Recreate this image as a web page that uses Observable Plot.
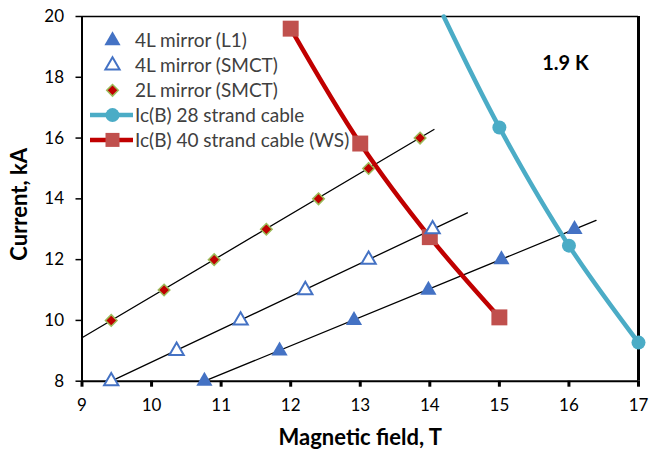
<!DOCTYPE html>
<html><head><meta charset="utf-8">
<script src="https://cdn.jsdelivr.net/npm/d3@7"></script>
<script src="https://cdn.jsdelivr.net/npm/@observablehq/plot@0.6"></script>
<style>body{margin:0;background:#fff} #wrap{width:649px;height:451px}</style>
</head><body><div id="wrap"></div>
<script>
// ---- data ----
const xTicks = [9, 10, 11, 12, 13, 14, 15, 16, 17];
const yTicks = [8, 10, 12, 14, 16, 18, 20];

const l1Field = [10.76, 11.84, 12.91, 13.98, 15.03, 16.08];
const l1Current = [8, 9, 10, 11, 12, 13];

const smct4Field = [9.42, 10.36, 11.28, 12.21, 13.12, 14.04];
const smct4Current = [8, 9, 10, 11, 12, 13];

const smct2Field = [9.42, 10.18, 10.9, 11.65, 12.4, 13.12, 13.86];
const smct2Current = [10, 11, 12, 13, 14, 15, 16];

// linear trend lines (end points)
const fitL1Field = [10.76, 16.39];
const fitL1Current = [8, 13.29];
const fitSmct4Field = [9.42, 14.54];
const fitSmct4Current = [8, 13.54];
const fitSmct2Field = [9.0, 14.06];
const fitSmct2Current = [9.43, 16.28];

// Ic(B) 28 strand cable: measured points, plus where the curve leaves the top of the chart
const ic28Field = [15, 16, 17];
const ic28Current = [16.35, 12.46, 9.27];
const ic28EdgeField = [14.2];
const ic28EdgeCurrent = [20];

const ic40Field = [12, 13, 14, 15];
const ic40Current = [19.6, 15.82, 12.74, 10.1];

const legendLabels = ["4L mirror (L1)", "4L mirror (SMCT)", "2L mirror (SMCT)", "Ic(B) 28 strand cable", "Ic(B) 40 strand cable (WS)"];
const tempLabel = "1.9 K";
const xLabel = "Magnetic field, T";
const yLabel = "Current, kA";

// ---- styling ----
const FONT = "Lato, 'Open Sans', sans-serif";
const BLUE = "#4472C4", CYAN = "#4BACC6", RED = "#C00000", SQ = "#C0504D", GREEN = "#9BBB59";
const rows = (xs, ys) => xs.map((x, i) => ({x, y: ys[i]}));
const [xMin, xMax] = [xTicks[0], xTicks[xTicks.length - 1]];
const [yMin, yMax] = [yTicks[0], yTicks[yTicks.length - 1]];

const plot = Plot.plot({
  width: 649, height: 451,
  marginLeft: 81.5, marginRight: 11, marginTop: 16, marginBottom: 70.3,
  x: {domain: [xMin, xMax], axis: null},
  y: {domain: [yMin, yMax], axis: null},
  marks: [
    Plot.axisX({ticks: xTicks, tickSize: 6, tickPadding: 12, fontSize: 17, fontFamily: FONT, strokeWidth: 3, stroke: "black", label: null}),
    Plot.axisY({ticks: yTicks, tickSize: 6, tickPadding: 12, fontSize: 17, fontFamily: FONT, strokeWidth: 1.5, stroke: "black", label: null}),
    Plot.ruleY([yMax], {stroke: "black", strokeWidth: 1.5}),
    Plot.ruleX([xMax], {stroke: "black", strokeWidth: 3}),
    Plot.ruleX([xMin], {stroke: "black", strokeWidth: 2}),
    Plot.ruleY([yMin], {stroke: "black", strokeWidth: 2}),
    Plot.line(rows(fitL1Field, fitL1Current), {x: "x", y: "y", stroke: "black", strokeWidth: 1.3}),
    Plot.line(rows(fitSmct4Field, fitSmct4Current), {x: "x", y: "y", stroke: "black", strokeWidth: 1.3}),
    Plot.line(rows(fitSmct2Field, fitSmct2Current), {x: "x", y: "y", stroke: "black", strokeWidth: 1.3}),
    Plot.line(rows(ic40Field, ic40Current), {x: "x", y: "y", stroke: RED, strokeWidth: 4.5, curve: "catmull-rom"}),
    Plot.line(rows(ic28EdgeField.concat(ic28Field), ic28EdgeCurrent.concat(ic28Current)), {x: "x", y: "y", stroke: CYAN, strokeWidth: 4.5, curve: "catmull-rom"}),
    Plot.dot(rows(ic40Field, ic40Current), {x: "x", y: "y", symbol: "square", r: 9, fill: SQ, stroke: "none"}),
    Plot.dot(rows(ic28Field, ic28Current), {x: "x", y: "y", symbol: "circle", r: 7, fill: CYAN, stroke: "none"}),
    Plot.dot(rows(l1Field, l1Current), {x: "x", y: "y", symbol: "triangle", r: 6, fill: BLUE, stroke: "none"}),
    Plot.dot(rows(smct4Field, smct4Current), {x: "x", y: "y", symbol: "triangle", r: 5.3, fill: "white", stroke: BLUE, strokeWidth: 2}),
    Plot.dot(rows(smct2Field, smct2Current), {x: "x", y: "y", symbol: "diamond2", r: 5.2, fill: RED, stroke: GREEN, strokeWidth: 1.5}),
    Plot.text([tempLabel], {frameAnchor: "top-right", dx: -73, dy: 47, textAnchor: "middle", lineAnchor: "middle", fontFamily: FONT, fontSize: 20, fontWeight: "bold", fill: "black"}),
    Plot.text([xLabel], {frameAnchor: "bottom", dy: 57, textAnchor: "middle", lineAnchor: "middle", fontFamily: FONT, fontSize: 22, fontWeight: "bold", fill: "black"})
  ]
});

const svg = d3.select(plot);
const sy = plot.scale("y");

// y axis title
svg.append("text").attr("transform", `translate(19,${(sy.apply(yMin) + sy.apply(yMax)) / 2 + 6}) rotate(-90)`)
  .attr("text-anchor", "middle").attr("dy", "0.35em").attr("font-family", FONT).attr("font-size", 22)
  .attr("font-weight", "bold").attr("fill", "black").text(yLabel);

// ---- legend inside the plot area (top-left) ----
const leg = svg.append("g").attr("font-family", FONT).attr("font-size", 19).attr("fill", "#404040").attr("text-anchor", "start");
const legY0 = 40.7, legStep = 24.8, symX = 112.5, textX = 135;
const legendStyle = [
  {sym: d3.symbolTriangle, size: Math.PI * 36, fill: BLUE, stroke: "none"},
  {sym: d3.symbolTriangle, size: Math.PI * 28, fill: "white", stroke: BLUE, sw: 2},
  {sym: d3.symbolDiamond2, size: Math.PI * 27, fill: RED, stroke: GREEN, sw: 1.5},
  {sym: d3.symbolCircle, size: Math.PI * 49, fill: CYAN, stroke: "none", line: CYAN},
  {sym: d3.symbolSquare, size: 196, fill: SQ, stroke: "none", line: RED}
];
legendLabels.forEach((lab, i) => {
  const y = legY0 + i * legStep, s = legendStyle[i];
  if (s.line) leg.append("line").attr("x1", 90).attr("x2", 133).attr("y1", y).attr("y2", y).attr("stroke", s.line).attr("stroke-width", 4.5);
  leg.append("path").attr("d", d3.symbol(s.sym, s.size)()).attr("transform", `translate(${symX},${y})`)
    .attr("fill", s.fill).attr("stroke", s.stroke).attr("stroke-width", s.sw || 0);
  leg.append("text").attr("x", textX).attr("y", y).attr("dy", "0.35em").attr("text-anchor", "start").text(lab);
});

document.getElementById("wrap").appendChild(plot);
</script>
</body></html>
